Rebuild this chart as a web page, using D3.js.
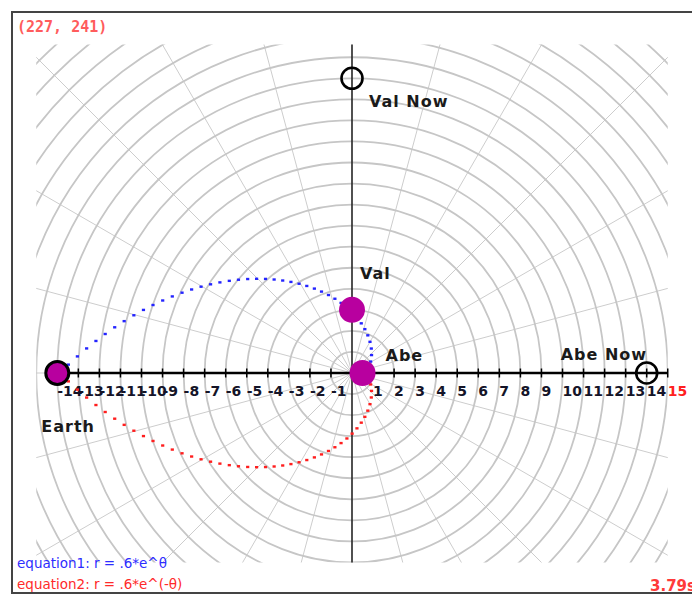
<!DOCTYPE html>
<html><head><meta charset="utf-8">
<script src="https://cdn.jsdelivr.net/npm/d3@7"></script>
<style>html,body{margin:0;padding:0;background:#fff;overflow:hidden}</style>
</head><body>
<svg id="c" width="692" height="595"></svg>
<script>
// ---- data ----
const xTicks = [-14,-13,-12,-11,-10,-9,-8,-7,-6,-5,-4,-3,-2,-1,1,2,3,4,5,6,7,8,9,10,11,12,13,14,15];
const ringRadii = [1,2,3,4,5,6,7,8,9,10,11,12,13,14,15,16,17,18,19,20,21,22];
const spokeAngles = [0,15,30,45,60,75,90,105,120,135,150,165,180,195,210,225,240,255,270,285,300,315,330,345];
// sampled spiral points read from the trail (angle in degrees, radius in axis units)
const spiralTheta = [0,17.90,31.52,42.51,51.73,60.01,67.24,73.66,79.43,84.89,89.87,94.46,98.88,102.98,106.80,110.53,114.03,117.45,120.67,123.84,
 126.84,129.79,132.59,135.36,137.99,140.60,143.09,145.55,147.91,150.24,152.49,154.71,156.92,159.04,161.14,163.17,165.18,167.18,169.10,171.02,
 172.87,174.71,176.54,178.31,179.98];
const spiralR = [0.60,0.82,1.04,1.26,1.48,1.71,1.94,2.17,2.40,2.64,2.88,3.12,3.37,3.62,3.87,4.13,4.39,4.66,4.93,5.21,
 5.49,5.78,6.07,6.37,6.67,6.98,7.29,7.61,7.93,8.26,8.59,8.93,9.28,9.63,9.99,10.35,10.72,11.10,11.48,11.87,
 12.26,12.66,13.07,13.48,13.88];
const bodyNames = ["Earth","Val","Abe"];
const bodyX = [-14, 0, 0.5];
const bodyY = [0, 3, 0];
const nowNames = ["Val Now","Abe Now"];
const nowX = [0, 14];
const nowY = [14, 0];
const coordText = "(227, 241)";
const eq1 = "equation1: r = .6*e^\u03b8";
const eq2 = "equation2: r = .6*e^(-\u03b8)";
const timeText = "3.79s";

// ---- drawing ----
const svg = d3.select("#c");
const x = d3.scaleLinear().domain([-15,15]).range([36.25,667.75]);
const y = d3.scaleLinear().domain([-9,15.6]).range([562.45,44.62]);
const unit = x(1)-x(0);
const cx = x(0), cy = y(0);

svg.append("rect").attr("x",12).attr("y",12).attr("width",700).attr("height",581)
  .attr("fill","#fff").attr("stroke","#444").attr("stroke-width",2);

svg.append("clipPath").attr("id","gclip").append("rect")
  .attr("x",x(-15)).attr("y",y(15.6)).attr("width",x(15)-x(-15)).attr("height",y(-9)-y(15.6));
const grid = svg.append("g").attr("clip-path","url(#gclip)");
grid.selectAll("line.spoke").data(spokeAngles).join("line").attr("class","spoke")
  .attr("x1",cx).attr("y1",cy)
  .attr("x2",d=>x(22*Math.cos(d*Math.PI/180))).attr("y2",d=>y(22*Math.sin(d*Math.PI/180)))
  .attr("stroke","#cdcdcd").attr("stroke-width",1);
grid.selectAll("circle.ring").data(ringRadii).join("circle").attr("class","ring")
  .attr("cx",cx).attr("cy",cy).attr("r",d=>d*unit)
  .attr("fill","none").attr("stroke","#c6c6c6").attr("stroke-width",1.8);

// vertical axis
svg.append("line").attr("x1",cx).attr("x2",cx).attr("y1",y(15.6)).attr("y2",y(-9))
  .attr("stroke","#000").attr("stroke-width",1.3);
// horizontal axis
svg.append("line").attr("x1",x(-14)).attr("x2",x(15)).attr("y1",cy).attr("y2",cy)
  .attr("stroke","#000").attr("stroke-width",2.6);
svg.selectAll("line.tick").data(xTicks).join("line").attr("class","tick")
  .attr("x1",d=>x(d)).attr("x2",d=>x(d)).attr("y1",cy-4.5).attr("y2",cy+4.5)
  .attr("stroke","#000").attr("stroke-width",1.5);
svg.selectAll("text.tl").data(xTicks).join("text").attr("class","tl")
  .attr("x",d=>x(d)).attr("y",cy+23)
  .attr("font-family","DejaVu Sans").attr("font-weight","bold").attr("font-size",14)
  .attr("fill",d=>d===15?"#ff2020":"#141428").text(d=>d);

// spirals
const pts = spiralTheta.map((t,i)=>({t:t*Math.PI/180, r:spiralR[i]}));
svg.selectAll("rect.blue").data(pts).join("rect").attr("class","blue")
  .attr("x",d=>x(d.r*Math.cos(d.t))-1.6).attr("y",d=>y(d.r*Math.sin(d.t))-1.2)
  .attr("width",3.2).attr("height",2.4).attr("fill","#2424ff");
svg.selectAll("rect.red").data(pts).join("rect").attr("class","red")
  .attr("x",d=>x(d.r*Math.cos(-d.t))-1.6).attr("y",d=>y(d.r*Math.sin(-d.t))-1.2)
  .attr("width",3.2).attr("height",2.4).attr("fill","#ff1e1e");

// now markers
svg.selectAll("circle.now").data(nowX).join("circle").attr("class","now")
  .attr("cx",(d,i)=>x(d)).attr("cy",(d,i)=>y(nowY[i])).attr("r",10.5)
  .attr("fill","none").attr("stroke","#000").attr("stroke-width",2.6);

// bodies
svg.selectAll("circle.body").data(bodyX).join("circle").attr("class","body")
  .attr("cx",d=>x(d)).attr("cy",(d,i)=>y(bodyY[i])).attr("r",(d,i)=>i===0?11.5:13)
  .attr("fill","#b8009f").attr("stroke",(d,i)=>i===0?"#000":"none").attr("stroke-width",3);

// labels
const lab = (t,px,py)=>svg.append("text").attr("x",px).attr("y",py)
  .attr("font-family","DejaVu Sans").attr("font-weight","bold").attr("font-size",16)
  .attr("letter-spacing",1).attr("fill","#1a1a1a").text(t);
lab(nowNames[0], x(nowX[0])+17, y(nowY[0])+29);
lab(nowNames[1], x(nowX[1])-86, y(nowY[1])-13);
lab(bodyNames[0], x(bodyX[0])-16, y(bodyY[0])+59);
lab(bodyNames[1], x(bodyX[1])+8, y(bodyY[1])-31);
lab(bodyNames[2], x(bodyX[2])+23, y(bodyY[2])-12);

svg.append("text").attr("x",17).attr("y",32).attr("font-family","DejaVu Sans Mono")
  .attr("font-weight","bold").attr("font-size",15).attr("fill","#ff5c5c").text(coordText);
svg.append("text").attr("x",17).attr("y",568).attr("font-family","DejaVu Sans")
  .attr("font-size",13.5).attr("fill","#2d2dff").text(eq1);
svg.append("text").attr("x",17).attr("y",589).attr("font-family","DejaVu Sans")
  .attr("font-size",13.5).attr("fill","#ff2a2a").text(eq2);
svg.append("text").attr("x",650).attr("y",591).attr("font-family","DejaVu Sans")
  .attr("font-weight","bold").attr("font-size",15).attr("fill","#ff3a3a").text(timeText);
</script>
</body></html>
